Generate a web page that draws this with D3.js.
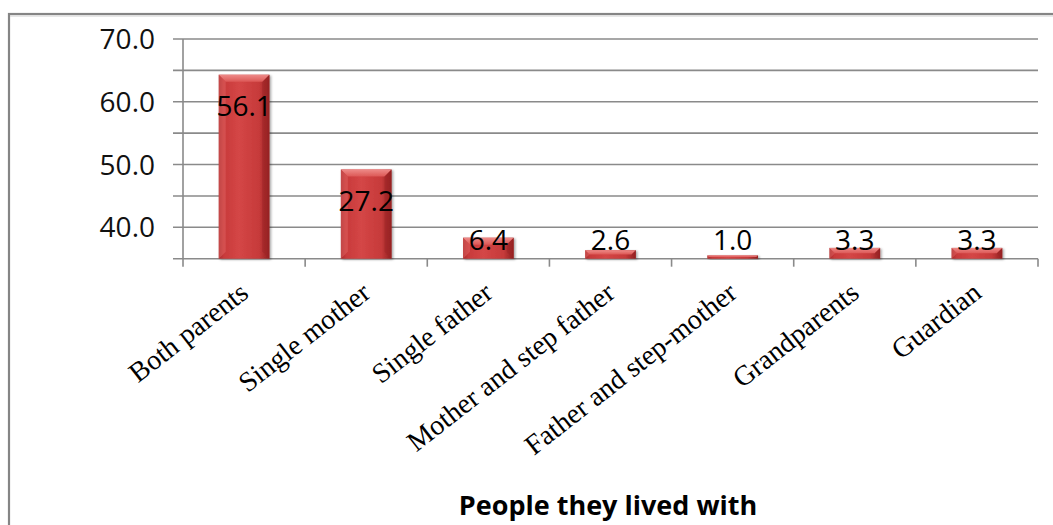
<!DOCTYPE html>
<html>
<head>
<meta charset="utf-8">
<script src="https://cdn.jsdelivr.net/npm/d3@7"></script>
<style>
  html, body { margin: 0; padding: 0; background: #fff; overflow: hidden; }
  svg { display: block; }
</style>
</head>
<body>
<svg id="chart" width="1053" height="525"></svg>
<script>
// Living arrangement categories and their shares (%)
const categories = [
  "Both parents",
  "Single mother",
  "Single father",
  "Mother and step father",
  "Father and step-mother",
  "Grandparents",
  "Guardian"
];
const percentages = [56.1, 27.2, 6.4, 2.6, 1.0, 3.3, 3.3];

// Value axis: labelled ticks and the finer gridline steps
const yTickLabels = [40, 50, 60, 70];
const yGridSteps = [35, 40, 45, 50, 55, 60, 65, 70];
const axisTitle = "People they lived with";

const svg = d3.select("#chart");
const plot = { left: 183, right: 1038, top: 39, bottom: 258.7 };

// Outer chart frame
svg.append("rect")
  .attr("x", 9).attr("y", 14)
  .attr("width", 1200).attr("height", 700)
  .attr("fill", "none").attr("stroke", "#858585").attr("stroke-width", 2.2);
svg.append("line")
  .attr("x1", 10).attr("x2", 1053).attr("y1", 16).attr("y2", 16)
  .attr("stroke", "#cfcfcf").attr("stroke-width", 1);

// Scales
const y = d3.scaleLinear().domain([35, 70]).range([plot.bottom, plot.top]);
const barY = d3.scaleLinear().domain([0, 67]).range([plot.bottom, plot.top]);
const x = d3.scaleBand()
  .domain(categories)
  .range([plot.left, plot.right])
  .paddingInner(0.585)
  .paddingOuter(0.2925);
const step = x.step();

const gridColor = "#8a8a8a";

// Horizontal gridlines, with short ticks poking out left of the axis
svg.append("g")
  .selectAll("line")
  .data(yGridSteps)
  .join("line")
  .attr("x1", plot.left - 10)
  .attr("x2", plot.right)
  .attr("y1", d => y(d))
  .attr("y2", d => y(d))
  .attr("stroke", gridColor)
  .attr("stroke-width", 1.6);

// Vertical axis line
svg.append("line")
  .attr("x1", plot.left).attr("x2", plot.left)
  .attr("y1", plot.top).attr("y2", plot.bottom)
  .attr("stroke", gridColor).attr("stroke-width", 1.6);

// Category tick marks below the base line
svg.append("g")
  .selectAll("line")
  .data(d3.range(categories.length + 1))
  .join("line")
  .attr("x1", i => plot.left + i * step)
  .attr("x2", i => plot.left + i * step)
  .attr("y1", plot.bottom)
  .attr("y2", plot.bottom + 8)
  .attr("stroke", gridColor)
  .attr("stroke-width", 1.6);

// Value axis labels
svg.append("g")
  .selectAll("text")
  .data(yTickLabels)
  .join("text")
  .attr("x", 155)
  .attr("y", d => y(d))
  .attr("dy", "0.36em")
  .attr("text-anchor", "end")
  .attr("font-family", "'Open Sans', sans-serif")
  .attr("font-size", 28)
  .attr("fill", "#111")
  .text(d => d3.format(".1f")(d));

// Bar fills: shaded body and bevelled caps
const defs = svg.append("defs");
const body = defs.append("linearGradient").attr("id", "barBody")
  .attr("x1", "0%").attr("x2", "100%").attr("y1", "0%").attr("y2", "0%");
[["0%", "#a82b2c"], ["10%", "#c83a3b"], ["40%", "#d44646"], ["80%", "#c63a3a"], ["100%", "#8e2020"]]
  .forEach(([o, c]) => body.append("stop").attr("offset", o).attr("stop-color", c));
const cap = defs.append("linearGradient").attr("id", "barCap")
  .attr("x1", "0%").attr("x2", "0%").attr("y1", "0%").attr("y2", "100%");
[["0%", "#ee8a88"], ["100%", "#dc5856"]]
  .forEach(([o, c]) => cap.append("stop").attr("offset", o).attr("stop-color", c));
const shadow = defs.append("filter").attr("id", "barShadow")
  .attr("x", "-20%").attr("y", "-20%").attr("width", "150%").attr("height", "150%");
shadow.append("feDropShadow")
  .attr("dx", 1.5).attr("dy", 1).attr("stdDeviation", 1.2)
  .attr("flood-color", "#000").attr("flood-opacity", 0.35);

const rows = categories.map((c, i) => ({ cat: c, value: percentages[i] }));
const bars = svg.append("g").selectAll("g").data(rows).join("g")
  .attr("filter", "url(#barShadow)");

bars.append("rect")
  .attr("x", d => x(d.cat))
  .attr("y", d => barY(d.value))
  .attr("width", x.bandwidth())
  .attr("height", d => plot.bottom - barY(d.value))
  .attr("fill", "url(#barBody)");

// Bevel: light top edge, darker right side
bars.append("path")
  .attr("fill", "url(#barCap)")
  .attr("d", d => {
    const x0 = x(d.cat), x1 = x0 + x.bandwidth();
    const t = barY(d.value);
    const b = Math.min(7, (plot.bottom - t) / 2);
    return `M${x0},${t}L${x1},${t}L${x1 - b},${t + b}L${x0 + b},${t + b}Z`;
  });
bars.append("path")
  .attr("fill", "#9c2526")
  .attr("opacity", 0.55)
  .attr("d", d => {
    const x1 = x(d.cat) + x.bandwidth();
    const t = barY(d.value);
    const b = Math.min(7, (plot.bottom - t) / 2);
    return `M${x1},${t}L${x1},${plot.bottom}L${x1 - b},${plot.bottom - b}L${x1 - b},${t + b}Z`;
  });
bars.append("path")
  .attr("fill", "#e26a68")
  .attr("opacity", 0.45)
  .attr("d", d => {
    const x0 = x(d.cat);
    const t = barY(d.value);
    const b = Math.min(7, (plot.bottom - t) / 2);
    return `M${x0},${t}L${x0 + b},${t + b}L${x0 + b},${plot.bottom - b}L${x0},${plot.bottom}Z`;
  });

// Value labels inside the bars
svg.append("g")
  .selectAll("text")
  .data(rows)
  .join("text")
  .attr("x", d => x(d.cat) + x.bandwidth() / 2)
  .attr("y", d => Math.min(barY(d.value) + 41, plot.bottom - 9))
  .attr("text-anchor", "middle")
  .attr("font-family", "'Open Sans', sans-serif")
  .attr("font-size", 28)
  .attr("fill", "#000")
  .text(d => d3.format(".1f")(d.value));

// Rotated category labels
svg.append("g")
  .selectAll("text")
  .data(categories)
  .join("text")
  .attr("transform", d => `translate(${x(d) + x.bandwidth() / 2 + 6},${296}) rotate(-38)`)
  .attr("text-anchor", "end")
  .attr("font-family", "'Liberation Serif', 'Times New Roman', serif")
  .attr("font-size", 28)
  .attr("fill", "#000")
  .text(d => d);

// Axis title
svg.append("text")
  .attr("x", 608)
  .attr("y", 515)
  .attr("text-anchor", "middle")
  .attr("font-family", "'Open Sans', sans-serif")
  .attr("font-weight", "bold")
  .attr("font-size", 27)
  .attr("fill", "#000")
  .text(axisTitle);
</script>
</body>
</html>
